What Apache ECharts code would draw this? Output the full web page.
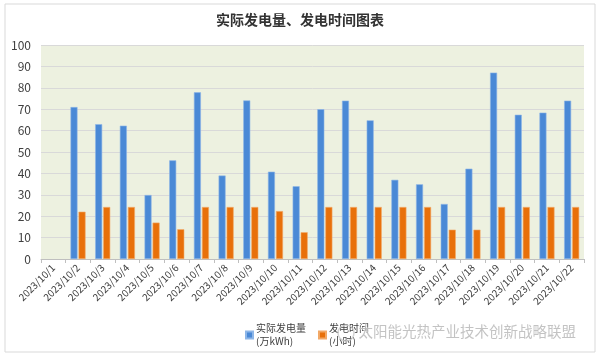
<!DOCTYPE html>
<html><head><meta charset="utf-8">
<script src="https://cdn.jsdelivr.net/npm/echarts@6/dist/echarts.min.js"></script>
<style>html,body{margin:0;padding:0;background:#fff}#c{width:600px;height:357px}</style>
</head><body><div id="c"></div>
<script>
const categories = ['2023/10/1','2023/10/2','2023/10/3','2023/10/4','2023/10/5','2023/10/6','2023/10/7','2023/10/8','2023/10/9','2023/10/10','2023/10/11','2023/10/12','2023/10/13','2023/10/14','2023/10/15','2023/10/16','2023/10/17','2023/10/18','2023/10/19','2023/10/20','2023/10/21','2023/10/22'];
const generation = [null,71,63,62.3,29.9,46.1,77.9,39,74.1,40.8,34,70,74,64.8,37,34.9,25.7,42.2,87.1,67.4,68.4,74];
const hours = [null,22.1,24.3,24.3,17,13.9,24.3,24.3,24.3,22.4,12.5,24.3,24.3,24.3,24.3,24.3,13.7,13.7,24.3,24.3,24.3,24.3];
const yTicks = [0,100,10];
const seriesNames = ['实际发电量\n(万kWh)','发电时间\n(小时)'];

const chart = echarts.init(document.getElementById('c'));
const font = '"Noto Sans CJK SC","Noto Sans",sans-serif';
chart.setOption({
  animation:false,
  backgroundColor:'#fff',
  textStyle:{fontFamily:font},
  title:{text:'实际发电量、发电时间图表',left:'center',top:8,
    textStyle:{fontSize:14,fontWeight:'bold',color:'#333',fontFamily:font}},
  grid:{left:41,right:16,top:45,bottom:98,show:true,backgroundColor:'#EDF1E0',borderWidth:0},
  legend:{left:240,top:317,itemWidth:7,itemHeight:7,itemGap:12,icon:'rect',
    data:seriesNames,
    textStyle:{fontSize:10,color:'#404040',lineHeight:13,padding:[0,0,0,-2]}},
  xAxis:{type:'category',data:categories,
    axisLine:{lineStyle:{color:'#BFBFBF'}},
    axisTick:{show:true,lineStyle:{color:'#BFBFBF'},length:4},
    axisLabel:{rotate:45,interval:0,fontSize:10,color:'#404040',margin:7}},
  yAxis:{type:'value',min:yTicks[0],max:yTicks[1],interval:yTicks[2],
    axisLine:{show:false},axisTick:{show:false},
    axisLabel:{fontSize:12,color:'#404040',margin:10},
    splitLine:{lineStyle:{color:'#D9D9D9'}}},
  series:[
    {name:seriesNames[0],type:'bar',data:generation,barWidth:7,barGap:'15%',
      itemStyle:{color:'#4A89D6',borderColor:'#8DB6E8',borderWidth:0.6}},
    {name:seriesNames[1],type:'bar',data:hours,barWidth:7,
      itemStyle:{color:'#E8700A',borderColor:'#F2A866',borderWidth:0.6}}
  ],
  graphic:[
    {type:'rect',shape:{x:5,y:4,width:590,height:348},style:{fill:'none',stroke:'#D9D9D9',lineWidth:1},silent:true,z:-1},
    {type:'circle',shape:{cx:346,cy:333,r:8},style:{fill:'none',stroke:'rgba(200,200,200,0.8)',lineWidth:1.5},z:100},
    {type:'text',left:358,top:324,style:{text:'太阳能光热产业技术创新战略联盟',fontSize:14.5,fill:'rgba(185,185,185,0.85)',
      stroke:'rgba(255,255,255,0.6)',lineWidth:1,fontFamily:font},z:100}
  ]
});
</script></body></html>
